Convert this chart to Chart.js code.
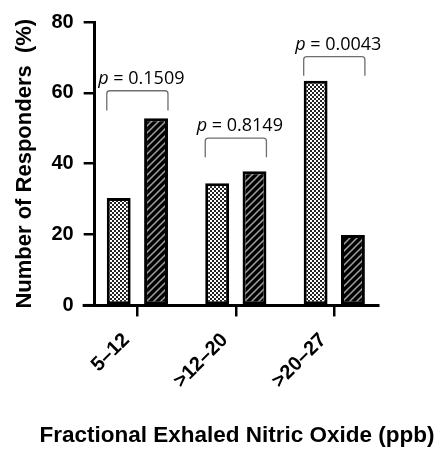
<!DOCTYPE html>
<html>
<head>
<meta charset="utf-8">
<script src="https://cdn.jsdelivr.net/npm/chart.js@4.4.0/dist/chart.umd.min.js"></script>
<style>
  html, body { margin: 0; padding: 0; background: #fff; }
  #wrap { width: 437px; height: 450px; position: relative; }
</style>
</head>
<body>
<div id="wrap"><canvas id="chart"></canvas></div>
<script>
var categories = ['5\u201312', '>12\u201320', '>20\u201327'];
var groupA = [30.3, 34.5, 63.4];
var groupB = [52.8, 37.9, 19.9];
var pValues = ['0.1509', '0.8149', '0.0043'];
var bracketTop = [60.6, 47.2, 70.2];
var bracketLeg = [55, 41.8, 64.8];
var yTicks = [0, 20, 40, 60, 80];
var xTitle = 'Fractional Exhaled Nitric Oxide (ppb)';
var yTitle = 'Number of Responders  (%)';

var BOLD = 'Arial, sans-serif';

function checkerPattern() {
  var c = document.createElement('canvas');
  c.width = 4; c.height = 4;
  var g = c.getContext('2d');
  g.fillStyle = '#fff';
  g.fillRect(0, 0, 4, 4);
  g.fillStyle = '#222';
  g.fillRect(0, 0, 2, 2);
  g.fillRect(2, 2, 2, 2);
  return g.createPattern(c, 'repeat');
}

function hatchPattern() {
  var s = 7;
  var c = document.createElement('canvas');
  c.width = s; c.height = s;
  var g = c.getContext('2d');
  g.fillStyle = '#000';
  g.fillRect(0, 0, s, s);
  g.strokeStyle = '#a0a0a0';
  g.lineWidth = 1.5;
  g.beginPath();
  g.moveTo(-1, s + 1); g.lineTo(s + 1, -1);
  g.moveTo(-1 - s, s + 1); g.lineTo(1, -1);
  g.moveTo(s - 1, s + 1); g.lineTo(s + s + 1, -1);
  g.stroke();
  return g.createPattern(c, 'repeat');
}

var brackets = {
  id: 'brackets',
  afterDatasetsDraw: function(chart) {
    var ctx = chart.ctx;
    var xs = chart.scales.x, ys = chart.scales.y;
    ctx.save();
    for (var i = 0; i < pValues.length; i++) {
      var m0 = chart.getDatasetMeta(0).data[i];
      var m1 = chart.getDatasetMeta(1).data[i];
      var x0 = m0.x - m0.width / 2, x1 = m1.x + m1.width / 2;
      var yt = ys.getPixelForValue(bracketTop[i]);
      var yl = ys.getPixelForValue(bracketLeg[i]);
      var r = 3;
      ctx.strokeStyle = '#6e6e6e';
      ctx.lineWidth = 1.3;
      ctx.beginPath();
      ctx.moveTo(x0, yl);
      ctx.lineTo(x0, yt + r);
      ctx.quadraticCurveTo(x0, yt, x0 + r, yt);
      ctx.lineTo(x1 - r, yt);
      ctx.quadraticCurveTo(x1, yt, x1, yt + r);
      ctx.lineTo(x1, yl);
      ctx.stroke();
      var cx = (x0 + x1) / 2 + 4;
      var ty = yt - 7;
      ctx.fillStyle = '#000';
      ctx.textBaseline = 'alphabetic';
      ctx.font = 'italic 18px "Open Sans", sans-serif';
      var pW = ctx.measureText('p').width;
      ctx.font = '18px "Open Sans", sans-serif';
      var rest = ' = ' + pValues[i];
      var rW = ctx.measureText(rest).width;
      var sx = cx - (pW + rW) / 2;
      ctx.textAlign = 'left';
      ctx.font = 'italic 18px "Open Sans", sans-serif';
      ctx.fillText('p', sx, ty);
      ctx.font = '18px "Open Sans", sans-serif';
      ctx.fillText(rest, sx + pW, ty);
    }
    // extend x axis line left past the y axis
    var y0 = ys.getPixelForValue(0);
    ctx.strokeStyle = '#000';
    ctx.lineWidth = 3;
    ctx.beginPath();
    ctx.moveTo(xs.left - 12, y0);
    ctx.lineTo(xs.left, y0);
    ctx.stroke();
    // x axis title (drawn here so it is not squeezed to the axis width)
    ctx.font = 'bold 22.5px ' + BOLD;
    ctx.textAlign = 'center';
    ctx.textBaseline = 'middle';
    ctx.fillStyle = '#000';
    ctx.fillText(xTitle, 237, chart.height - 14);
    ctx.restore();
  }
};

var ctx = document.getElementById('chart').getContext('2d');
new Chart(ctx, {
  type: 'bar',
  data: {
    labels: [1, 2, 3],
    datasets: [
      { label: 'A', data: groupA.map(function(v, i) { return { x: i + 1, y: v }; }), backgroundColor: checkerPattern(), borderColor: '#000', borderWidth: 3, borderSkipped: false, categoryPercentage: 0.758, barPercentage: 0.64 },
      { label: 'B', data: groupB.map(function(v, i) { return { x: i + 1, y: v }; }), backgroundColor: hatchPattern(), borderColor: '#000', borderWidth: 3, borderSkipped: false, categoryPercentage: 0.758, barPercentage: 0.64 }
    ]
  },
  options: {
    responsive: true,
    maintainAspectRatio: false,
    animation: false,
    layout: { padding: { left: 8, right: 59, top: 19, bottom: 45 } },
    plugins: { legend: { display: false }, tooltip: { enabled: false } },
    scales: {
      x: {
        type: 'linear',
        min: 0.566,
        max: 3.444,
        offset: false,
        afterBuildTicks: function(s) { s.ticks = [{ value: 1 }, { value: 2 }, { value: 3 }]; },
        border: { display: true, color: '#000', width: 3 },
        grid: { display: true, offset: false, drawOnChartArea: false, drawTicks: true, tickLength: 11, color: '#000', lineWidth: 2.5 },
        ticks: {
          minRotation: 45, maxRotation: 45, padding: 12, labelOffset: -11,
          color: '#000',
          font: { family: BOLD, size: 20, weight: 'bold' },
          callback: function(v) { return categories[v - 1]; }
        },
        title: { display: false }
      },
      y: {
        min: 0,
        max: 80,
        afterBuildTicks: function(s) { s.ticks = yTicks.map(function(v) { return { value: v }; }); },
        border: { display: true, color: '#000', width: 3 },
        grid: { display: true, drawOnChartArea: false, drawTicks: true, tickLength: 11, color: '#000', lineWidth: 2.5 },
        ticks: {
          padding: 10,
          color: '#000',
          font: { family: BOLD, size: 20, weight: 'bold' }
        },
        title: {
          display: true,
          text: yTitle,
          color: '#000',
          font: { family: BOLD, size: 22, weight: 'bold' },
          padding: { top: 4, bottom: 3 }
        }
      }
    }
  },
  plugins: [brackets]
});
</script>
</body>
</html>
